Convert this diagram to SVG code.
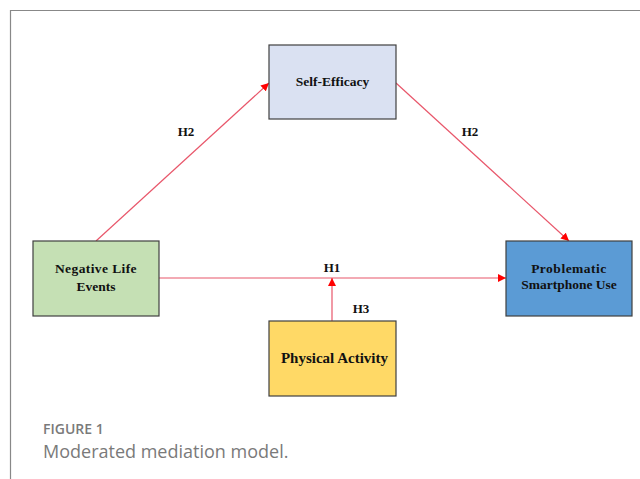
<svg xmlns="http://www.w3.org/2000/svg" width="640" height="479" viewBox="0 0 640 479">
<style>
.box{stroke:#404040;stroke-width:1.2}
.lbl{font-family:"Liberation Serif",serif;font-weight:bold;font-size:13.5px;fill:#111;text-anchor:middle}
.h{font-family:"Liberation Serif",serif;font-weight:bold;font-size:13px;fill:#111;text-anchor:middle}
.con{stroke:#e8566a;stroke-width:1.2;fill:none}
</style>
<defs>
<marker id="ah" viewBox="0 0 10 10" refX="10" refY="5" markerWidth="8" markerHeight="8" markerUnits="userSpaceOnUse" orient="auto">
<path d="M0,0 L10,5 L0,10 z" fill="#ff0000"/>
</marker>
</defs>
<rect width="640" height="479" fill="#fff"/>
<path d="M10.5,479 V10.5 H640" stroke="#888" stroke-width="1.2" fill="none"/>
<g id="connectors">
<line class="con" x1="96" y1="241" x2="269" y2="83" marker-end="url(#ah)"/>
<line class="con" x1="396" y1="83" x2="569" y2="241" marker-end="url(#ah)"/>
<line class="con" x1="159" y1="278" x2="506" y2="278" marker-end="url(#ah)"/>
<line class="con" x1="332" y1="321" x2="332" y2="278" marker-end="url(#ah)"/>
<text class="h" x="186" y="136">H2</text>
<text class="h" x="470" y="136">H2</text>
<text class="h" x="332" y="272">H1</text>
<text class="h" x="361" y="313">H3</text>
</g>
<g id="self-efficacy">
<rect class="box" x="269" y="45" width="127" height="74" fill="#dae1f2"/>
<text class="lbl" x="332.5" y="86">Self-Efficacy</text>
</g>
<g id="negative-life-events">
<rect class="box" x="33" y="241" width="126" height="75" fill="#c5e0b4"/>
<text class="lbl" x="96" y="273" letter-spacing="0.4">Negative Life</text>
<text class="lbl" x="96" y="291">Events</text>
</g>
<g id="problematic-smartphone-use">
<rect class="box" x="506" y="241" width="126" height="75" fill="#5b9bd5"/>
<text class="lbl" x="569" y="273" fill="#0d1b33" letter-spacing="0.5">Problematic</text>
<text class="lbl" x="569" y="289" fill="#0d1b33">Smartphone Use</text>
</g>
<g id="physical-activity">
<rect class="box" x="269" y="321" width="127" height="75" fill="#ffd966"/>
<text class="lbl" x="334.5" y="363" style="font-size:15px">Physical Activity</text>
</g>
<text x="43" y="434" font-family="'Open Sans',sans-serif" font-size="14" font-weight="600" fill="#7a7a7a">FIGURE 1</text>
<text x="43" y="458" font-family="'Open Sans',sans-serif" font-size="18" fill="#7a7a7a">Moderated mediation model.</text>
</svg>
